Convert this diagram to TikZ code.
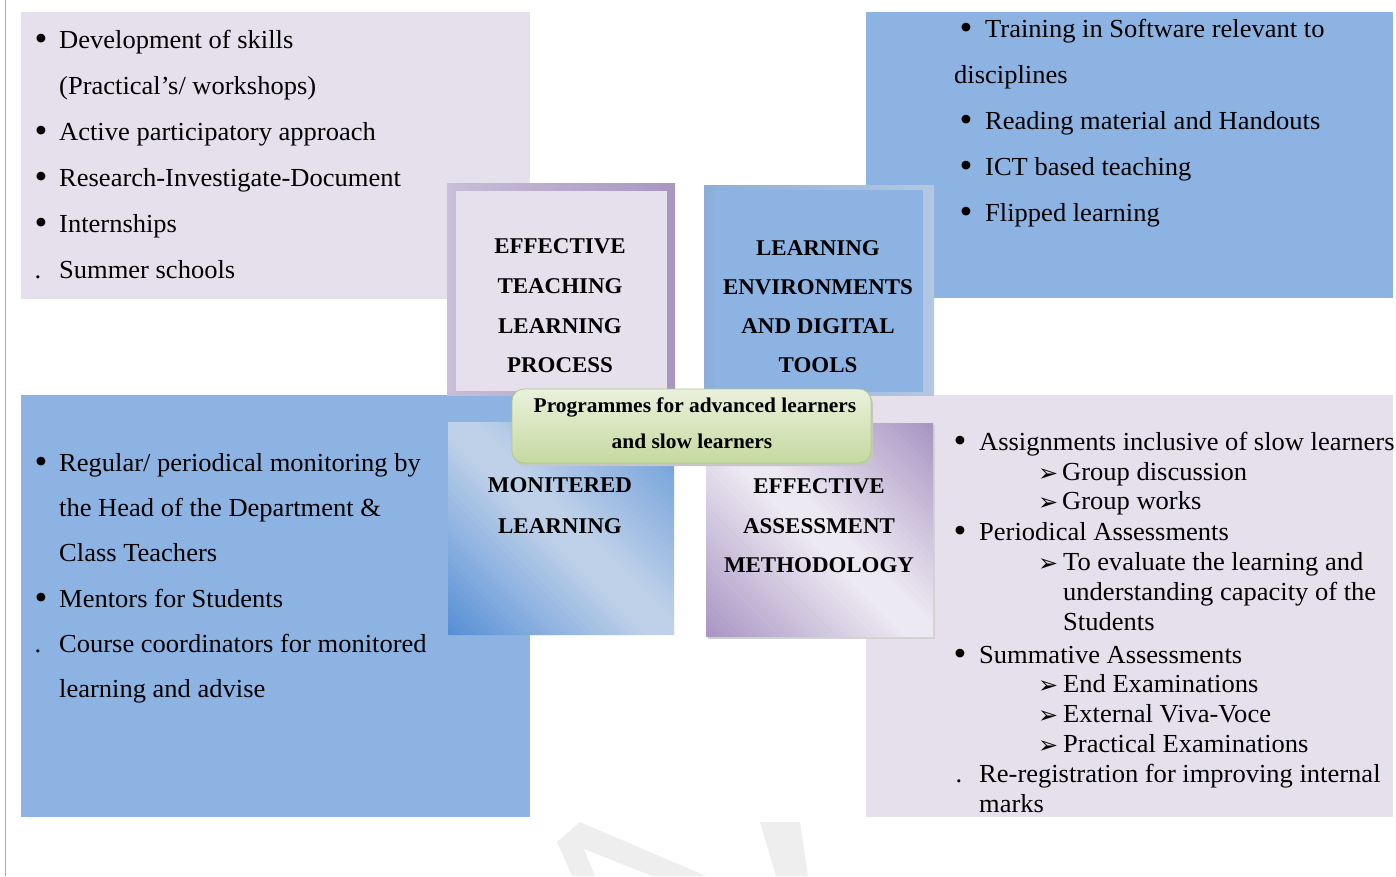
\documentclass[tikz,border=0pt]{standalone}
\usepackage{fontspec}
\setmainfont[FakeStretch=1.02]{Liberation Serif}
\newfontfamily\dejavu{DejaVu Sans}
\definecolor{lav}{HTML}{E5E0EC}
\definecolor{blu}{HTML}{8DB3E2}
\definecolor{purb}{HTML}{B3A2C7}
\definecolor{purd}{HTML}{A896C0}
\definecolor{purl}{HTML}{C9BDD9}
\definecolor{blul}{HTML}{BFD1E9}
\definecolor{blud}{HTML}{558ED5}
\definecolor{purk}{HTML}{A794C2}
\definecolor{lavl}{HTML}{EDE9F2}
\definecolor{bluedge}{HTML}{B3C8E2}
\definecolor{grnl}{HTML}{EAF1DC}
\definecolor{grnd}{HTML}{C6D9A0}
\definecolor{grnb}{HTML}{B0C98A}
\definecolor{wmark}{HTML}{EEEEEE}
% diagonal two-corner gradient: x0,y0,x1,y1,dark,light,top-right strength
\newcommand{\diagfill}[7]{%
 \begin{scope}
 \clip (#1,#2) rectangle (#3,#4);
 \pgfmathsetmacro\dgmin{#1-#4}
 \pgfmathsetmacro\dgmax{#3-#2}
 \pgfmathsetmacro\dgstep{(\dgmax-\dgmin)/60}
 \foreach \dgi in {0,...,59}{
   \pgfmathsetmacro\dga{\dgmin+\dgi*\dgstep}
   \pgfmathsetmacro\dgb{\dga+\dgstep+1}
   \pgfmathsetmacro\dgs{(\dgi+0.5)/60}
   \pgfmathsetmacro\dgk{\dgs<0.5 ? 100*max(0,1-\dgs/0.46) : #7*max(0,(\dgs-0.54)/0.46)}
   \fill[#5!\dgk!#6] (\dga+#2,#2) -- (\dgb+#2,#2) -- (\dgb+#4,#4) -- (\dga+#4,#4) -- cycle;
 }
 \end{scope}}
\begin{document}
\begin{tikzpicture}[x=1pt,y=-1pt,
  body/.style={anchor=base west, inner sep=0pt, font=\fontsize{26}{26}\selectfont},
  bul/.style={anchor=base, inner sep=0pt, font=\fontsize{36}{36}\selectfont},
  sbul/.style={anchor=base, inner sep=0pt, font=\fontsize{26}{26}\selectfont},
  arr/.style={anchor=base west, inner sep=0pt, font=\dejavu\fontsize{24}{24}\selectfont},
  head/.style={anchor=base, inner sep=0pt, font=\fontsize{22.5}{22.5}\selectfont\bfseries},
  prog/.style={anchor=base, inner sep=0pt, font=\fontsize{21}{21}\selectfont\bfseries}]
\useasboundingbox (0,0) rectangle (1396,876);
% page edge line
\draw[gray!65, line width=1pt] (5.5,0) -- (5.5,876);
% watermark
\fill[wmark] (557,842) -- (580,822) -- (706,876) -- (652,876) -- (584,849) -- (595,876) -- (572,876) -- cycle;
\fill[wmark] (760,822) -- (800,822) -- (808,876) -- (776,876) -- cycle;
% outer boxes
\fill[lav] (21,12) rectangle (530,299);
\fill[blu] (866,12) rectangle (1393,298);
\fill[blu] (21,395) rectangle (530,817);
\fill[lav] (866,395) rectangle (1393,817);
% ETLP box
\shade[left color=purl, right color=purd] (447,183) rectangle (675,395);
\fill[lav] (456,191) rectangle (667,391);
% LEDT box
\shade[left color=blu!90!gray, right color=bluedge] (704,185) rectangle (934,395);
\fill[blu] (714,190) rectangle (923,392);
% ML box
\diagfill{448}{422}{674}{635}{blud}{blul}{85}
% EAM box
\fill[gray!35] (708,425) rectangle (935,639);
\diagfill{706}{423}{933}{637}{purk}{lavl}{100}
% central rounded box
\fill[gray!45, rounded corners=12pt] (514,392) rectangle (873,466);
\shade[rounded corners=12pt, top color=grnl, bottom color=grnd, draw=grnb, line width=0.8pt] (512,389) rectangle (871,463);

% headings
\node[head] (h1) at (560,253) {EFFECTIVE};
\node[head] (h2) at (560,293) {TEACHING};
\node[head] (h3) at (560,333) {LEARNING};
\node[head] (h4) at (560,372) {PROCESS};
\node[head] (g1) at (818,255) {LEARNING};
\node[head] (g2) at (818,294) {ENVIRONMENTS};
\node[head] (g3) at (818,333) {AND DIGITAL};
\node[head] (g4) at (818,372) {TOOLS};
\node[head] (m1) at (560,492) {MONITERED};
\node[head] (m2) at (560,533) {LEARNING};
\node[head] (e1) at (819,493) {EFFECTIVE};
\node[head] (e2) at (819,533) {ASSESSMENT};
\node[head] (e3) at (819,572) {METHODOLOGY};
\node[prog] (p1) at (695,412) {Programmes for advanced learners};
\node[prog] (p2) at (692,448) {and slow learners};

% top-left list
\node[bul] (tlb1) at (41,50) {•};
\node[body] (tl1) at (59,48) {Development of skills};
\node[body] (tl2) at (59,94) {(Practical’s/ workshops)};
\node[bul] (tlb3) at (41,142) {•};
\node[body] (tl3) at (59,140) {Active participatory approach};
\node[bul] (tlb4) at (41,188) {•};
\node[body] (tl4) at (59,186) {Research-Investigate-Document};
\node[bul] (tlb5) at (41,234) {•};
\node[body] (tl5) at (59,232) {Internships};
\node[sbul] (tlb6) at (38,278) {.};
\node[body] (tl6) at (59,278) {Summer schools};

% top-right list
\node[bul] (trb1) at (966,39) {•};
\node[body] (tr1) at (985,37) {Training in Software relevant to};
\node[body] (tr2) at (954,83) {disciplines};
\node[bul] (trb3) at (966,131) {•};
\node[body] (tr3) at (985,129) {Reading material and Handouts};
\node[bul] (trb4) at (966,177) {•};
\node[body] (tr4) at (985,175) {ICT based teaching};
\node[bul] (trb5) at (966,223) {•};
\node[body] (tr5) at (985,221) {Flipped learning};

% bottom-left list
\node[bul] (blb1) at (41,473) {•};
\node[body] (bl1) at (59,471) {Regular/ periodical monitoring by};
\node[body] (bl2) at (59,516) {the Head of the Department \&};
\node[body] (bl3) at (59,561) {Class Teachers};
\node[bul] (blb4) at (41,609) {•};
\node[body] (bl4) at (59,607) {Mentors for Students};
\node[sbul] (blb5) at (38,652) {.};
\node[body] (bl5) at (59,652) {Course coordinators for monitored};
\node[body] (bl6) at (59,697) {learning and advise};

% bottom-right list
\node[bul] (brb1) at (960,452) {•};
\node[body] (br1) at (979,450) {Assignments inclusive of slow learners};
\node[arr] (bra2) at (1038,481) {➢};
\node[body] (br2) at (1062,480) {Group discussion};
\node[arr] (bra3) at (1038,510) {➢};
\node[body] (br3) at (1062,509) {Group works};
\node[bul] (brb4) at (960,542) {•};
\node[body] (br4) at (979,540) {Periodical Assessments};
\node[arr] (bra5) at (1038,571) {➢};
\node[body] (br5) at (1063,570) {To evaluate the learning and};
\node[body] (br6) at (1063,600) {understanding capacity of the};
\node[body] (br7) at (1063,630) {Students};
\node[bul] (brb8) at (960,665) {•};
\node[body] (br8) at (979,663) {Summative Assessments};
\node[arr] (bra9) at (1038,693) {➢};
\node[body] (br9) at (1063,692) {End Examinations};
\node[arr] (bra10) at (1038,723) {➢};
\node[body] (br10) at (1063,722) {External Viva-Voce};
\node[arr] (bra11) at (1038,753) {➢};
\node[body] (br11) at (1063,752) {Practical Examinations};
\node[sbul] (brb12) at (959,782) {.};
\node[body] (br12) at (979,782) {Re-registration for improving internal};
\node[body] (br13) at (979,812) {marks};
\end{tikzpicture}
\end{document}
